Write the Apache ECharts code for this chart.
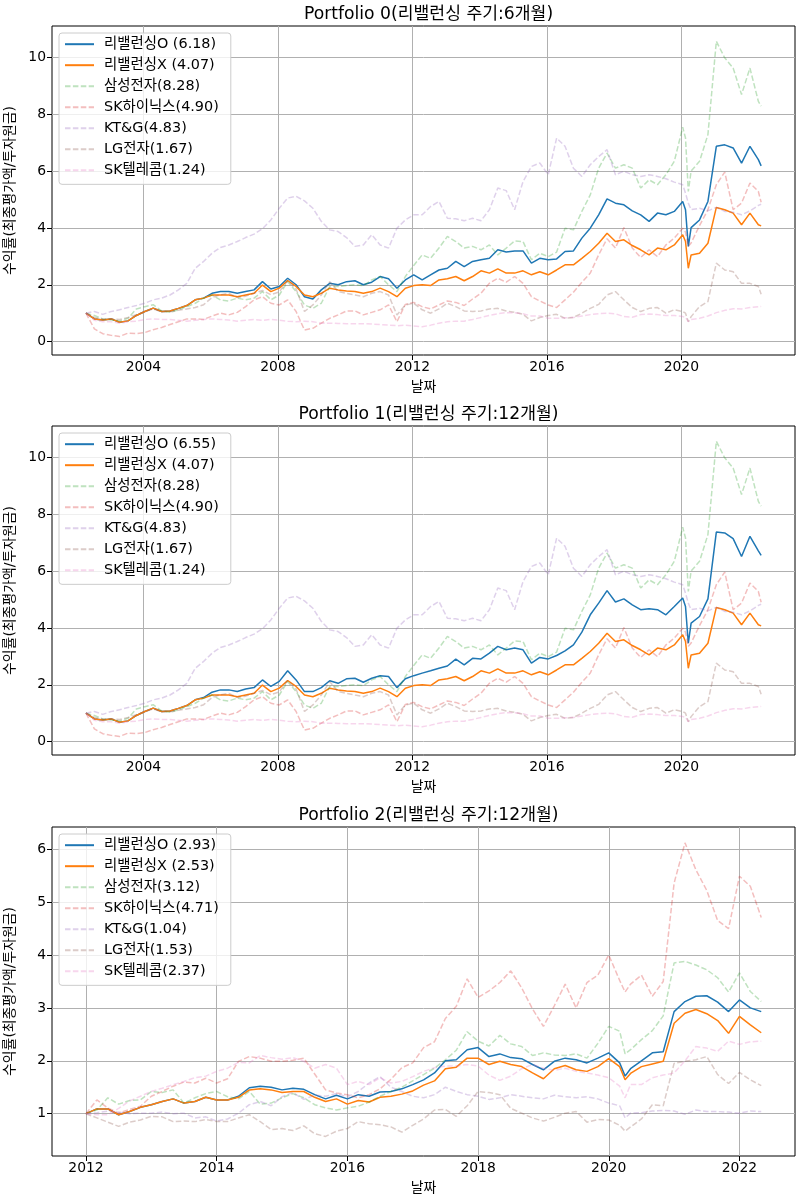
<!DOCTYPE html>
<html><head><meta charset="utf-8">
<script src="https://cdn.jsdelivr.net/npm/echarts/dist/echarts.min.js"></script>
<style>html,body{margin:0;padding:0;background:#fff}#c{width:800px;height:1200px}</style>
</head><body><div id="c"></div>
<script>
// ---- dates (month offsets) ----
const monthsA = [0,3,6,9,12,15,18,21,24,27,30,33,36,39,42,45,48,51,54,57,60,63,66,69,72,75,78,81,84,87,90,93,96,99,102,105,108,111,114,117,120,123,126,129,132,135,138,141,144,147,150,153,156,159,162,165,168,171,174,177,180,183,186,189,192,195,198,201,204,207,210,213,214,215,216,219,222,225,228,231,234,237,240,241];
const startA = 2002.29;
const monthsC = [0,2,4,6,8,10,12,14,16,18,20,22,24,26,28,30,32,34,36,38,40,42,44,46,48,50,52,54,56,58,60,62,64,66,68,70,72,74,76,78,80,82,84,86,88,90,92,94,96,98,99,100,102,104,106,108,110,112,114,116,118,120,122,124];
const startC = 2012.0;

// ---- Portfolio 0 / 1 (2002-2022) ----
const rebalO_P0 = [1.00,0.80,0.76,0.80,0.68,0.73,0.92,1.06,1.18,1.06,1.08,1.17,1.27,1.47,1.53,1.70,1.76,1.76,1.70,1.76,1.82,2.11,1.85,1.94,2.23,2.00,
1.58,1.50,1.82,2.05,2.00,2.11,2.14,2.00,2.09,2.29,2.21,1.88,2.17,2.35,2.17,2.35,2.52,2.58,2.82,2.64,2.82,2.88,2.93,3.23,3.15,3.19,3.19,2.76,2.93,
2.88,2.91,3.17,3.19,3.64,3.99,4.46,5.02,4.87,4.81,4.60,4.46,4.23,4.52,4.46,4.58,4.93,
4.64,3.35,4.01,4.28,4.93,6.87,6.92,6.81,6.28,6.87,6.40,6.18];
const rebalO_P1 = [1.00,0.80,0.76,0.80,0.68,0.73,0.92,1.06,1.18,1.06,1.08,1.17,1.27,1.47,1.55,1.74,1.82,1.82,1.76,1.85,1.90,2.17,1.94,2.12,2.49,2.17,
1.76,1.76,1.90,2.14,2.05,2.21,2.23,2.09,2.23,2.32,2.29,1.90,2.21,2.32,2.41,2.49,2.58,2.66,2.90,2.70,2.93,2.91,3.11,3.35,3.23,3.29,3.23,2.76,2.96,
2.91,3.03,3.19,3.40,3.85,4.46,4.87,5.31,4.91,5.02,4.81,4.64,4.67,4.64,4.46,4.75,5.05,
4.75,3.46,4.17,4.40,5.02,7.37,7.34,7.14,6.51,7.22,6.71,6.55];
const rebalX_A = [1.00,0.80,0.76,0.80,0.68,0.73,0.92,1.06,1.18,1.06,1.08,1.17,1.27,1.47,1.53,1.64,1.64,1.64,1.58,1.64,1.70,1.99,1.76,1.88,2.15,1.94,
1.64,1.58,1.70,1.88,1.82,1.78,1.76,1.70,1.76,1.88,1.76,1.58,1.88,1.97,2.00,1.97,2.17,2.21,2.29,2.14,2.29,2.49,2.41,2.56,2.41,2.41,2.49,2.35,2.46,
2.35,2.52,2.70,2.70,2.93,3.17,3.46,3.81,3.52,3.58,3.38,3.23,3.05,3.29,3.23,3.40,3.76,
3.52,2.58,3.05,3.11,3.46,4.72,4.64,4.52,4.11,4.52,4.11,4.07];
const samsungA = [1.00,0.92,0.80,0.76,0.73,0.82,1.15,1.23,1.30,1.08,1.03,1.12,1.23,1.35,1.53,1.64,1.47,1.43,1.53,1.47,1.53,1.76,1.47,1.64,2.11,1.76,
1.29,1.17,1.35,1.94,1.94,1.97,2.00,1.97,2.17,2.29,2.00,1.76,2.29,2.68,3.05,2.93,3.29,3.70,3.52,3.29,3.35,3.23,3.40,3.05,3.29,3.54,3.52,2.88,3.11,
2.99,3.15,3.99,3.93,4.58,5.16,6.10,6.63,6.10,6.22,6.10,5.40,5.69,5.52,5.87,6.34,7.54,
7.16,5.28,6.00,6.34,7.28,10.56,9.98,9.62,8.69,9.62,8.45,8.28];
const hynixA = [1.00,0.45,0.28,0.22,0.18,0.30,0.28,0.32,0.42,0.50,0.60,0.70,0.80,0.80,0.78,0.90,1.00,0.94,1.03,1.23,1.47,1.58,1.35,1.29,1.47,1.06,
0.41,0.47,0.65,0.82,0.94,1.08,1.08,0.94,1.03,1.12,1.29,0.70,1.31,1.38,1.23,1.15,1.29,1.43,1.38,1.27,1.50,1.70,2.05,2.23,2.09,2.29,2.05,1.58,1.43,
1.29,1.20,1.47,1.74,2.09,2.41,3.05,3.62,3.29,4.01,3.29,2.96,3.23,2.99,3.40,3.64,3.99,
3.85,3.35,3.47,4.08,4.64,5.52,5.96,4.64,4.87,5.58,5.28,4.90];
const ktngA = [1.00,1.06,0.96,1.06,1.12,1.20,1.27,1.35,1.47,1.53,1.64,1.82,2.05,2.58,2.82,3.11,3.31,3.40,3.52,3.66,3.78,3.97,4.28,4.69,5.05,5.11,
4.95,4.69,4.23,3.93,3.87,3.66,3.35,3.40,3.76,3.40,3.29,3.99,4.28,4.46,4.46,4.75,4.93,4.34,4.32,4.25,4.34,4.25,4.64,5.40,5.31,4.64,5.63,6.16,6.28,
5.87,7.16,6.87,6.10,5.81,6.22,6.51,6.75,5.87,5.99,5.87,5.81,5.87,5.81,5.73,5.61,5.52,
5.22,4.87,4.64,4.69,4.60,4.72,4.58,4.55,4.46,4.60,4.79,4.83];
const lgA = [1.00,0.85,0.80,0.80,0.78,0.85,0.95,1.05,1.15,1.05,1.05,1.10,1.15,1.20,1.30,1.55,1.65,1.70,1.55,1.60,1.70,1.80,1.65,1.75,2.15,1.85,
1.06,1.29,1.64,2.11,1.76,1.70,1.64,1.58,1.70,1.76,1.64,0.94,1.29,1.35,1.12,1.00,1.15,1.35,1.23,1.08,1.06,1.08,1.15,1.17,1.08,1.03,0.96,0.73,0.85,
0.92,0.96,0.82,0.85,1.00,1.17,1.31,1.64,1.76,1.47,1.20,1.06,1.17,1.20,1.00,1.12,1.06,
1.00,0.70,0.88,1.23,1.41,2.76,2.52,2.46,2.05,2.05,1.94,1.67];
const sktA = [1.00,0.75,0.70,0.70,0.65,0.70,0.72,0.78,0.80,0.78,0.78,0.75,0.72,0.75,0.78,0.80,0.78,0.76,0.72,0.75,0.78,0.75,0.78,0.75,0.72,0.70,
0.72,0.70,0.65,0.65,0.64,0.63,0.63,0.63,0.62,0.60,0.58,0.56,0.58,0.55,0.52,0.58,0.65,0.70,0.72,0.72,0.78,0.85,0.92,0.98,1.02,1.02,0.98,0.90,0.90,
0.82,0.82,0.84,0.85,0.90,0.95,0.98,1.00,0.98,0.88,0.86,0.95,0.97,0.95,0.92,0.92,0.88,
0.86,0.70,0.78,0.82,0.90,1.02,1.10,1.16,1.15,1.20,1.23,1.24];

// ---- Portfolio 2 (2012-2022) ----
const rebalO_P2 = [1.00,1.09,1.09,0.98,1.04,1.12,1.17,1.23,1.28,1.20,1.23,1.31,1.26,1.26,1.33,1.49,1.52,1.50,1.45,1.48,1.46,
1.36,1.28,1.35,1.28,1.36,1.33,1.41,1.42,1.47,1.55,1.64,1.77,2.00,2.02,2.21,2.25,2.08,2.13,2.06,2.04,1.93,1.83,
1.99,2.05,2.02,1.96,2.05,2.15,1.96,1.71,
1.85,2.00,2.15,2.17,2.93,3.12,3.22,3.23,3.11,2.93,3.15,3.00,2.93];
const rebalX_C = [1.00,1.09,1.09,0.98,1.04,1.12,1.17,1.23,1.28,1.20,1.23,1.31,1.26,1.26,1.31,1.45,1.47,1.45,1.40,1.42,1.42,
1.31,1.23,1.28,1.18,1.25,1.22,1.31,1.33,1.37,1.43,1.54,1.62,1.85,1.88,2.05,2.05,1.93,1.99,1.93,1.89,1.77,1.66,
1.85,1.91,1.83,1.80,1.89,2.04,1.89,1.64,
1.76,1.89,1.94,1.99,2.71,2.90,2.97,2.89,2.76,2.52,2.84,2.68,2.53];
const samsungC = [1.00,1.07,1.30,1.18,1.25,1.26,1.42,1.40,1.45,1.20,1.30,1.38,1.42,1.32,1.28,1.42,1.18,1.20,1.30,1.38,1.30,
1.17,1.11,1.07,1.11,1.14,1.22,1.33,1.42,1.50,1.62,1.74,1.86,2.02,2.20,2.55,2.37,2.28,2.48,2.32,2.27,2.10,2.15,
2.11,2.10,2.13,2.05,2.33,2.65,2.56,2.13,
2.21,2.40,2.57,2.85,3.85,3.88,3.81,3.72,3.57,3.30,3.66,3.31,3.12];
const hynixC = [1.00,1.26,1.11,1.01,1.08,1.14,1.33,1.42,1.52,1.60,1.58,1.67,1.58,1.66,1.99,2.08,2.05,1.99,1.99,2.01,2.05,
1.75,1.45,1.39,1.36,1.30,1.36,1.47,1.65,1.87,1.96,2.25,2.36,2.80,3.03,3.55,3.20,3.32,3.48,3.70,3.38,2.98,2.65,
3.04,3.45,3.00,3.48,3.62,4.00,3.52,3.30,
3.45,3.62,3.22,3.50,5.36,6.12,5.61,5.22,4.65,4.50,5.49,5.30,4.71];
const ktngC = [1.00,1.02,1.05,1.03,1.00,1.01,1.01,1.03,1.00,1.01,0.92,0.94,0.86,0.90,1.01,1.17,1.23,1.15,1.32,1.40,1.27,
1.35,1.33,1.38,1.32,1.42,1.58,1.70,1.50,1.42,1.33,1.30,1.36,1.50,1.42,1.36,1.33,1.27,1.30,1.36,1.33,1.30,1.28,
1.35,1.32,1.30,1.32,1.28,1.20,1.15,0.92,
1.01,1.02,1.05,1.06,1.05,0.99,1.07,1.04,1.04,1.03,1.01,1.05,1.04];
const lgC = [1.00,0.92,0.84,0.76,0.84,0.88,0.95,0.94,0.85,0.86,0.85,0.89,0.85,0.85,0.92,0.98,0.85,0.70,0.72,0.68,0.77,
0.62,0.57,0.67,0.72,0.85,0.81,0.79,0.75,0.65,0.78,0.90,1.07,1.08,0.95,1.15,1.42,1.40,1.36,1.10,1.01,0.92,0.86,
0.93,1.01,1.04,0.84,0.89,0.88,0.78,0.67,
0.75,0.90,1.17,1.15,1.95,1.99,2.02,2.08,1.74,1.57,1.78,1.64,1.53];
const sktC = [1.00,0.98,0.98,1.10,1.24,1.33,1.42,1.48,1.55,1.61,1.68,1.71,1.80,1.86,1.97,1.96,2.10,2.06,2.03,2.06,1.99,
1.86,1.93,1.86,1.55,1.61,1.55,1.68,1.58,1.61,1.70,1.80,1.87,1.90,1.90,1.93,1.90,1.73,1.63,1.71,1.85,1.93,1.86,
1.82,1.86,1.80,1.77,1.73,1.68,1.52,1.30,
1.55,1.55,1.68,1.73,1.77,2.00,2.27,2.24,2.18,2.37,2.31,2.36,2.37];

// ---- labels ----
const titles = ['Portfolio 0(리밸런싱 주기:6개월)', 'Portfolio 1(리밸런싱 주기:12개월)', 'Portfolio 2(리밸런싱 주기:12개월)'];
const namesP0 = ['리밸런싱O (6.18)','리밸런싱X (4.07)','삼성전자(8.28)','SK하이닉스(4.90)','KT&G(4.83)','LG전자(1.67)','SK텔레콤(1.24)'];
const namesP1 = ['리밸런싱O (6.55)','리밸런싱X (4.07)','삼성전자(8.28)','SK하이닉스(4.90)','KT&G(4.83)','LG전자(1.67)','SK텔레콤(1.24)'];
const namesP2 = ['리밸런싱O (2.93)','리밸런싱X (2.53)','삼성전자(3.12)','SK하이닉스(4.71)','KT&G(1.04)','LG전자(1.53)','SK텔레콤(2.37)'];
const xTicksA = [2004,2008,2012,2016,2020];
const xTicksC = [2012,2014,2016,2018,2020,2022];
const yTicksA = [0,2,4,6,8,10];
const yTicksC = [1,2,3,4,5,6];
const xLabel = '날짜';
const yLabel = '수익률(최종평가액/투자원금)';

// ---- build ----
const FONT = "'DejaVu Sans','Noto Sans CJK KR',sans-serif";
const FS = 13.9, FS_LEG = 14.4, FS_TITLE = 17.2;
const COLORS = ['#1f77b4','#ff7f0e','#2ca02c','#d62728','#9467bd','#8c564b','#e377c2'];
const datesA = monthsA.map(m => startA + m / 12);
const datesC = monthsC.map(m => startC + m / 12);

const panels = [
  {dates: datesA, vals: [rebalO_P0, rebalX_A, samsungA, hynixA, ktngA, lgA, sktA], names: namesP0,
   xr: [2001.28, 2023.38], yr: [-0.47, 11.1], xt: xTicksA, yt: yTicksA},
  {dates: datesA, vals: [rebalO_P1, rebalX_A, samsungA, hynixA, ktngA, lgA, sktA], names: namesP1,
   xr: [2001.28, 2023.38], yr: [-0.47, 11.1], xt: xTicksA, yt: yTicksA},
  {dates: datesC, vals: [rebalO_P2, rebalX_C, samsungC, hynixC, ktngC, lgC, sktC], names: namesP2,
   xr: [2011.48, 2022.85], yr: [0.2, 6.42], xt: xTicksC, yt: yTicksC}
];
const gridTops = [26, 426, 827];
const GRID_H = 329, GRID_L = 52, GRID_W = 743;

const option = {
  animation: false,
  backgroundColor: '#fff',
  textStyle: {fontFamily: FONT},
  title: panels.map((p, i) => ({
    text: titles[i], left: GRID_L + GRID_W / 2, top: gridTops[i] - 25, textAlign: 'center',
    textStyle: {fontSize: FS_TITLE, fontWeight: 'normal', color: '#000', fontFamily: FONT}
  })),
  grid: panels.map((p, i) => ({
    left: GRID_L, top: gridTops[i], width: GRID_W, height: GRID_H,
    show: true, borderColor: '#000', borderWidth: 1, backgroundColor: 'transparent',
    containLabel: false, outerBoundsMode: 'none'
  })),
  xAxis: panels.map((p, i) => ({
    type: 'value', gridIndex: i, min: p.xr[0], max: p.xr[1],
    axisLine: {show: false, onZero: false},
    axisTick: {show: true, length: 5, lineStyle: {color: '#000', width: 1}, customValues: p.xt},
    axisLabel: {color: '#000', fontSize: FS, fontFamily: FONT, margin: 5, customValues: p.xt,
                formatter: v => String(Math.round(v))},
    splitLine: {show: true, lineStyle: {color: '#b0b0b0', width: 1}},
    name: xLabel, nameLocation: 'middle', nameGap: 25,
    nameTextStyle: {color: '#000', fontSize: FS, fontFamily: FONT}
  })),
  yAxis: panels.map((p, i) => ({
    type: 'value', gridIndex: i, min: p.yr[0], max: p.yr[1],
    axisLine: {show: false, onZero: false},
    axisTick: {show: true, length: 5, lineStyle: {color: '#000', width: 1}, customValues: p.yt},
    axisLabel: {color: '#000', fontSize: FS, fontFamily: FONT, margin: 6, customValues: p.yt,
                formatter: v => String(Math.round(v))},
    splitLine: {show: true, lineStyle: {color: '#b0b0b0', width: 1}},
    name: yLabel, nameLocation: 'middle', nameRotate: 90, nameGap: 35,
    nameTextStyle: {color: '#000', fontSize: FS, fontFamily: FONT}
  })),
  legend: panels.map((p, i) => ({
    data: p.names, orient: 'vertical', left: 59, top: gridTops[i] + 7,
    itemWidth: 29, itemHeight: 14, itemGap: 6.6, padding: [4, 12, 7, 5],
    itemStyle: {opacity: 0},
    backgroundColor: 'rgba(255,255,255,0.8)', borderColor: '#cccccc', borderWidth: 1, borderRadius: 3,
    textStyle: {fontSize: FS_LEG, color: '#000', fontFamily: FONT, padding: [0, 0, 0, 5]},
    selectedMode: false
  })),
  series: []
};

panels.forEach((p, i) => {
  p.vals.forEach((vals, s) => {
    const dashed = s >= 2;
    option.series.push({
      type: 'line', name: p.names[s], xAxisIndex: i, yAxisIndex: i,
      data: p.dates.map((d, j) => [d, vals[j]]),
      symbol: 'none', showSymbol: false, silent: true,
      lineStyle: {color: COLORS[s], width: 1.5, type: dashed ? [5.5, 2.4] : 'solid', opacity: dashed ? 0.3 : 1},
      itemStyle: {color: COLORS[s]},
      emphasis: {disabled: true}
    });
  });
});

const chart = echarts.init(document.getElementById('c'), null, {renderer: 'canvas'});
chart.setOption(option);
</script></body></html>
